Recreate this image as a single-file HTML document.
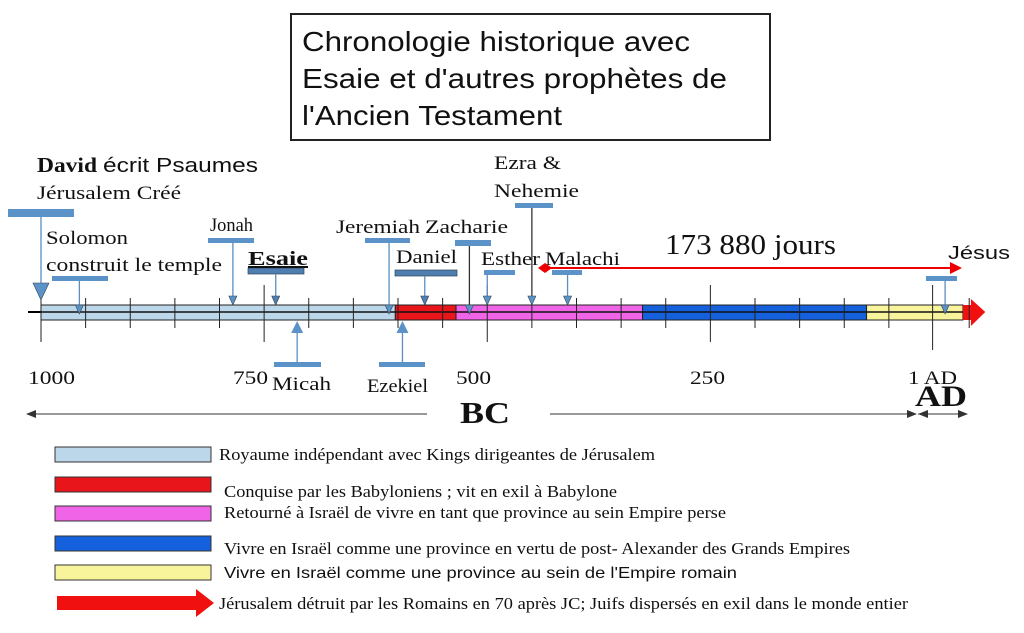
<!DOCTYPE html>
<html><head><meta charset="utf-8"><style>
body{margin:0;background:#fff;width:1024px;height:633px;overflow:hidden}
svg{display:block}
.t{font-family:"Liberation Serif",serif;fill:#111}
.a{font-family:"Liberation Sans",sans-serif;fill:#111}
</style></head><body>
<svg id="c" width="1024" height="633" viewBox="0 0 1024 633">
<rect x="291" y="14" width="479" height="126" fill="#fff" stroke="#222" stroke-width="2"/>
<text class="a" font-size="28"><tspan x="302" y="51" textLength="388" lengthAdjust="spacingAndGlyphs">Chronologie historique avec</tspan><tspan x="302" y="88" textLength="425" lengthAdjust="spacingAndGlyphs">Esaie et d'autres prophètes de</tspan><tspan x="302" y="125" textLength="260" lengthAdjust="spacingAndGlyphs">l'Ancien Testament</tspan></text>
<g id="marks"></g>
<text x="665" y="254" class="t" font-size="28" textLength="171" lengthAdjust="spacingAndGlyphs">173 880 jours</text>
<line x1="548" y1="268" x2="952" y2="268" stroke="#e00" stroke-width="2"/>
<polygon points="538,268 545,263 552,268 545,273" fill="#e00"/>
<polygon points="962,268 950,262 950,274" fill="#e00"/>
<text x="460" y="423" class="t" font-size="31" font-weight="bold" textLength="50" lengthAdjust="spacingAndGlyphs">BC</text>
<line x1="30" y1="414" x2="427" y2="414" stroke="#333"/>
<line x1="550" y1="414" x2="915" y2="414" stroke="#333"/>
<polygon points="26,414 36,410 36,418" fill="#333"/>
<polygon points="917,414 907,410 907,418" fill="#333"/>
<text x="915" y="406" class="t" font-size="30" font-weight="bold" textLength="52" lengthAdjust="spacingAndGlyphs">AD</text>
<line x1="918" y1="414" x2="966" y2="414" stroke="#333"/>
<polygon points="918,414 928,410 928,418" fill="#333"/>
<polygon points="968,414 958,410 958,418" fill="#333"/>
<g id="legend"></g>
</svg>
<script>
const tickYears=[1000,950,900,850,800,750,700,650,600,550,500,450,400,350,300,250,200,150,100,50,1,-40];
const majorYears=[1000,750,500,250,1];
const axisLabels=["1000","750","500","250","1 AD"];
const labelX=[28,233,456,690,908];
const labelW=[47,35,35,35,49];
const periodStart=[1000,603,535,326,75];
const periodEnd=[603,535,326,75,-33];
const periodColors=["#bcd6ea","#e8151b","#f064e8","#1560dc","#f8f49c"];
const arrowEnd=-58;
const eventNames=["david","solomon","jonah","esaie","micah","jeremiah","ezekiel","daniel","zacharie","esther","ezra","malachi","jesus"];
const eventYears=[1000,957,785,737,713,610,595,570,520,500,450,410,-13];
const eventDir=["down","down","down","down","up","down","up","down","down","down","down","down","down"];
const legendText=["Royaume indépendant avec Kings dirigeantes de Jérusalem","Conquise par les Babyloniens ; vit en exil à Babylone","Retourné à Israël de vivre en tant que province au sein Empire perse","Vivre en Israël comme une province en vertu de post- Alexander des Grands Empires","Vivre en Israël comme une province au sein de l'Empire romain","Jérusalem détruit par les Romains en 70 après JC; Juifs dispersés en exil dans le monde entier"];
const X=y=>41+(1000-y)*0.8925;
const NS="http://www.w3.org/2000/svg";
function mk(p,tag,at){const e=document.createElementNS(NS,tag);for(const k in at)e.setAttribute(k,at[k]);p.appendChild(e);return e;}
const g=document.getElementById('marks');
let e=mk(g,'line',{x1:28,y1:312,x2:45,y2:312,stroke:'#000','stroke-width':2});


periodStart.forEach((s,i)=>{
 const r=mk(g,'rect',{x:X(s),y:305,width:X(periodEnd[i])-X(s),height:15,fill:periodColors[i],stroke:'#222','stroke-width':1});
 
 
});
const ah=mk(g,'polygon',{points:`${X(periodEnd[4])},305 ${X(periodEnd[4])+8},305 ${X(periodEnd[4])+8},299 ${X(arrowEnd)},312 ${X(periodEnd[4])+8},326 ${X(periodEnd[4])+8},320 ${X(periodEnd[4])},320`,fill:'#f01010'});


const ml=mk(g,'line',{x1:X(1000),y1:312,x2:X(periodEnd[4]),y2:312,stroke:'#111','stroke-width':1.5});


tickYears.forEach(y=>{
 const maj=majorYears.includes(y);
 const t=mk(g,'line',{x1:X(y),y1:maj?285:298,x2:X(y),y2:maj?(y==1?350:342):328,stroke:'#222','stroke-width':1});
 
 
});
axisLabels.forEach((l,i)=>{
 const t=mk(g,'text',{x:labelX[i],y:384,class:'t','font-size':19,textLength:labelW[i],lengthAdjust:'spacingAndGlyphs'});t.textContent=l;
 
 
});
const barInfo={david:[8,209,66,8],solomon:[52,276,56,5],jonah:[208,238,46,5],esaie:[248,268,56,6],micah:[274,362,47,5],jeremiah:[365,238,45,5],ezekiel:[379,362,46,5],daniel:[395,270,62,6],zacharie:[455,240,36,6],esther:[484,270,31,5],ezra:[515,203,38,5],malachi:[552,270,30,5],jesus:[926,276,31,5]};
eventNames.forEach((n,i)=>{
 const x=X(eventYears[i]);const b=barInfo[n];const dark=(n=='esaie'||n=='daniel');
 const grp=mk(g,'g',{});
 
 
 const col=dark?'#4f7fb0':'#5b93c8';
 mk(grp,'rect',{x:b[0],y:b[1],width:b[2],height:b[3],fill:col,stroke:dark?'#345':'none','stroke-width':0.7});
 if(eventDir[i]=='down'){
  const tip=(n=='david')?300:(['solomon','jeremiah','zacharie','jesus'].includes(n)?314:305);
  const big=n=='david';const hw=big?8:4,hh=big?17:9;
  mk(grp,'line',{x1:x,y1:b[1]+b[3],x2:x,y2:tip-hh,stroke:n=='zacharie'||n=='ezra'?'#333':'#5b8fc0','stroke-width':1.3});
  mk(grp,'polygon',{points:`${x-hw},${tip-hh} ${x+hw},${tip-hh} ${x},${tip}`,fill:col,stroke:'#345','stroke-width':0.6});
 }else{
  mk(grp,'line',{x1:x,y1:b[1],x2:x,y2:332,stroke:'#5b8fc0','stroke-width':1.3});
  mk(grp,'polygon',{points:`${x-6},333 ${x+6},333 ${x},321`,fill:col});
 }
});
const texts=[["David",37,172,21,'t',"bold",60],["écrit Psaumes",103,172,20,'a',"",155],["Jérusalem Créé",37,199,19,'t',"",144],["Solomon",46,244,19,'t',"",82],["construit le temple",46,271,19,'t',"",176],["Jonah",210,231,19,'t',"",43],["Esaie",248,265,20,'t',"bold",60],["Micah",272,390,19,'t',"",59],["Jeremiah",336,233,19,'t',"",84],["Zacharie",425,233,19,'t',"",83],["Daniel",396,263,19,'t',"",61],["Esther",481,265,19,'t',"",59],["Ezra &",494,169,19,'t',"",67],["Nehemie",494,197,19,'t',"",85],["Malachi",545,265,19,'t',"",75],["Ezekiel",367,392,19,'t',"",61],["Jésus",948,259,18,'a',"",62]];
texts.forEach(([s,x,y,f,c,w,tl])=>{
 const t=mk(g,'text',{x:x,y:y,class:c,'font-size':f,'font-weight':w||'normal',textLength:tl,lengthAdjust:'spacingAndGlyphs'});t.textContent=s;
 if(s=="Esaie")t.setAttribute('text-decoration','underline');
 
 
});
const lg=document.getElementById('legend');
const ly=[447,477,506,536,565];const ty=[460,497,518,554,578,609];
const lx=[219,224,224,224,224,219];const lw=[436,393,502,626,513,689];
legendText.forEach((s,i)=>{
 if(i<5){const r=mk(lg,'rect',{x:55,y:ly[i],width:156,height:15,fill:periodColors[i],stroke:'#333'});
  
  }
 else{const r=mk(lg,'polygon',{points:'57,596 196,596 196,589 214,603 196,617 196,610 57,610',fill:'#f01010'});
  
  }
 const t=mk(lg,'text',{x:lx[i],y:ty[i],class:i==4?'a':'t','font-size':i==4?16:16.5,textLength:lw[i],lengthAdjust:'spacingAndGlyphs'});t.textContent=s;
 
 
});
</script>
</body></html>
